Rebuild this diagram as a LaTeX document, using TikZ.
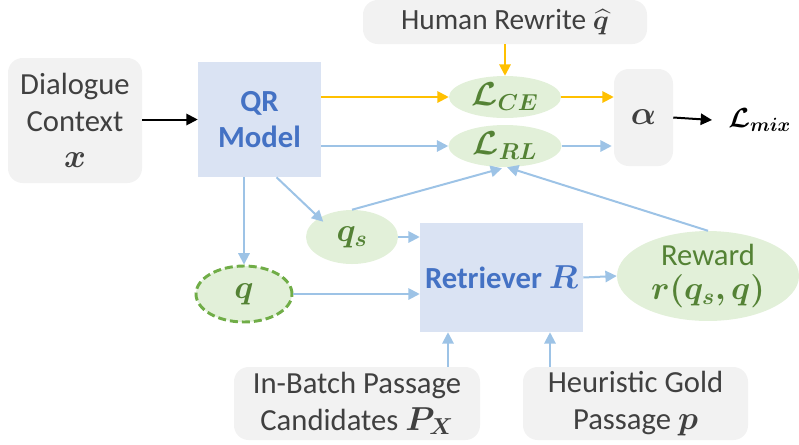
\documentclass[tikz,border=0pt]{standalone}
\usepackage{amsmath}
\usepackage{bm}
\usepackage{fontspec}
\setmainfont{Carlito}
\usetikzlibrary{arrows.meta,calc,shapes.geometric}
\definecolor{graybox}{HTML}{F2F2F2}
\definecolor{bluebox}{HTML}{DAE3F3}
\definecolor{bluetext}{HTML}{4472C4}
\definecolor{greenfill}{HTML}{E2F0D9}
\definecolor{greentext}{HTML}{548235}
\definecolor{greenline}{HTML}{70AD47}
\definecolor{bluearrow}{HTML}{9DC3E6}
\definecolor{orangearrow}{HTML}{FFC000}
\definecolor{darktext}{HTML}{404040}
\tikzset{
  txt/.style={font=\fontsize{23}{27.5}\selectfont},
  graynode/.style={txt,fill=graybox,rounded corners=11pt,inner sep=0pt,align=center,text=darktext},
  bluenode/.style={txt,fill=bluebox,inner sep=0pt,align=center,text=bluetext,font=\fontsize{23}{27.5}\selectfont\bfseries},
  greenell/.style={txt,ellipse,fill=greenfill,inner sep=0pt,align=center,text=greentext},
  mathbig/.style={font=\fontsize{25}{28}\selectfont},
  barrow/.style={draw=bluearrow,line width=1.5pt,-{Triangle[length=8.5pt,width=8.5pt]}},
  oarrow/.style={draw=orangearrow,line width=1.5pt,-{Triangle[length=8.5pt,width=8.5pt]}},
  karrow/.style={draw=black,line width=1.5pt,-{Triangle[length=8.5pt,width=8.5pt]}},
}
\begin{document}
\begin{tikzpicture}[x=0.75pt,y=-0.75pt]
\useasboundingbox (0,0) rectangle (799,444);
% gray boxes
\node[graynode,minimum width=134*0.75pt,minimum height=125*0.75pt] (dc) at (75,120.5) {Dialogue\\Context\\$\bm{x}$};
\node[graynode,font=\fontsize{22}{26}\selectfont,minimum width=284*0.75pt,minimum height=44*0.75pt] (hr) at (505,22) {Human Rewrite $\bm{\widehat{q}}$};
\node[graynode,mathbig,minimum width=59*0.75pt,minimum height=97*0.75pt] (al) at (643.5,117.5) {$\bm{\alpha}$};
\node[graynode,minimum width=246*0.75pt,minimum height=73*0.75pt] (ib) at (357,403.5) {In-Batch Passage\\Candidates $\bm{P_X}$};
\node[graynode,minimum width=225*0.75pt,minimum height=73*0.75pt] (hg) at (635.5,403.5) {Heuristic Gold\\Passage $\bm{p}$};
% blue boxes
\node[bluenode,minimum width=123*0.75pt,minimum height=115*0.75pt] (qr) at (259.5,119.5) {QR\\Model};
\node[bluenode,minimum width=163*0.75pt,minimum height=109*0.75pt] (rt) at (501.5,277.5) {Retriever $\bm{R}$};
% ellipses
\node[greenell,mathbig,minimum width=112*0.75pt,minimum height=42*0.75pt] (lce) at (505,97) {$\bm{\mathcal{L}_{CE}}$};
\node[greenell,mathbig,minimum width=113*0.75pt,minimum height=42*0.75pt] (lrl) at (505,146) {$\bm{\mathcal{L}_{RL}}$};
\node[greenell,mathbig,minimum width=92*0.75pt,minimum height=54*0.75pt] (qs) at (352,237) {$\bm{q_s}$};
\node[greenell,mathbig,minimum width=96*0.75pt,minimum height=56*0.75pt,draw=greenline,line width=2.2pt,dash pattern=on 6pt off 3pt] (q) at (244,294) {$\bm{q}$};
\node[greenell,minimum width=182*0.75pt,minimum height=88*0.75pt] (rw) at (708,276) {Reward\\[-2pt]{\fontsize{25}{28}\selectfont$\bm{r(q_s,q)}$}};
% L_mix
\node[inner sep=0pt,anchor=west,font=\fontsize{21}{24}\selectfont] (lm) at (728,120) {$\bm{\mathcal{L}_{mix}}$};
% arrows
\draw[karrow] (dc.east |- qr.west) -- (qr.west);
\draw[oarrow] (hr.south) -- (lce.north);
\draw[oarrow] (qr.east |- lce.west) -- (lce.west);
\draw[oarrow] (lce.east) -- (al.west |- lce.east);
\draw[barrow] (qr.east |- lrl.west) -- (lrl.west);
\draw[barrow] (lrl.east) -- ($(al.west |- lrl.east)+(-2,0)$);
\draw[karrow] (al.east) -- ($(lm.west)+(-16,0)$);
\draw[barrow] ($(qr.south)+(17,0)$) -- ($(qs.north west)+(4,4)$);
\draw[barrow] (qr.south -| q.north) -- (q.north);
\draw[barrow] (qs.north) -- ($(lrl.south)+(-3,1)$);
\draw[barrow] (rw.north) -- ($(lrl.south)+(2,0)$);
\draw[barrow] (qs.east) -- (rt.west |- qs.east);
\draw[barrow] (q.east) -- (rt.west |- q.east);
\draw[barrow] (rt.east) -- (rw.west);
\draw[barrow] ($(ib.north)+(91,0)$) -- ($(rt.south)+(-53.5,0)$);
\draw[barrow] ($(hg.north)+(-85.5,0)$) -- ($(rt.south)+(48.5,0)$);
\end{tikzpicture}
\end{document}
